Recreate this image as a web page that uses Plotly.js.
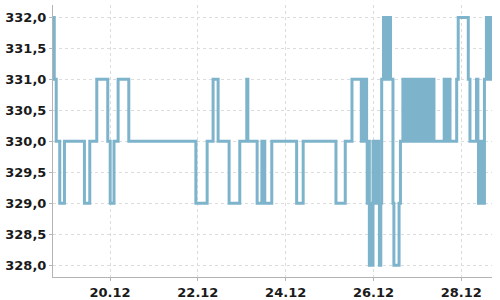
<!DOCTYPE html>
<html>
<head>
<meta charset="utf-8">
<script src="https://cdn.plot.ly/plotly-3.0.1.min.js"></script>
<style>html,body{margin:0;padding:0;background:#fff;}#chart{width:500px;height:300px;}</style>
</head>
<body>
<div id="chart"></div>
<script>
// Change points of the step series (time, new value)
const times = [
'2023-12-18 16:50','2023-12-18 17:30','2023-12-18 18:35','2023-12-18 20:30','2023-12-18 23:05',
'2023-12-19 10:00','2023-12-19 12:55','2023-12-19 16:45','2023-12-19 22:45',
'2023-12-20 00:05','2023-12-20 02:10','2023-12-20 04:25','2023-12-20 10:15',
'2023-12-21 22:55',
'2023-12-22 05:05','2023-12-22 08:20','2023-12-22 11:05','2023-12-22 17:05','2023-12-22 22:55',
'2023-12-23 02:45','2023-12-23 03:20','2023-12-23 08:25','2023-12-23 11:00','2023-12-23 12:35','2023-12-23 16:25',
'2023-12-24 06:00','2023-12-24 09:35',
'2023-12-25 03:30','2023-12-25 08:35','2023-12-25 12:15','2023-12-25 17:20','2023-12-25 18:05','2023-12-25 18:50',
'2023-12-25 19:35','2023-12-25 20:15','2023-12-25 20:35','2023-12-25 21:15','2023-12-25 21:45','2023-12-25 22:30',
'2023-12-25 23:00','2023-12-25 23:45',
'2023-12-26 00:15','2023-12-26 00:50','2023-12-26 01:30','2023-12-26 02:10','2023-12-26 02:50','2023-12-26 03:15',
'2023-12-26 04:00','2023-12-26 04:30','2023-12-26 05:30','2023-12-26 06:15','2023-12-26 07:00','2023-12-26 07:45',
'2023-12-26 08:30','2023-12-26 09:20','2023-12-26 10:40','2023-12-26 11:10','2023-12-26 14:00','2023-12-26 14:45',
'2023-12-26 16:05','2023-12-26 16:40','2023-12-26 17:25','2023-12-26 18:10','2023-12-26 18:55','2023-12-26 19:40',
'2023-12-26 20:25','2023-12-26 21:10','2023-12-26 21:55','2023-12-26 22:40','2023-12-26 23:25',
'2023-12-27 00:10','2023-12-27 00:55','2023-12-27 01:40','2023-12-27 02:25','2023-12-27 03:10','2023-12-27 03:55',
'2023-12-27 04:40','2023-12-27 05:25','2023-12-27 06:10','2023-12-27 06:55','2023-12-27 07:40','2023-12-27 08:25',
'2023-12-27 09:05','2023-12-27 14:40','2023-12-27 15:25','2023-12-27 16:10','2023-12-27 16:55','2023-12-27 17:15',
'2023-12-27 17:50','2023-12-27 21:30','2023-12-27 22:20',
'2023-12-28 03:50','2023-12-28 04:45','2023-12-28 08:20','2023-12-28 09:05','2023-12-28 09:25','2023-12-28 10:10',
'2023-12-28 10:55','2023-12-28 11:40','2023-12-28 12:10','2023-12-28 12:40','2023-12-28 13:45','2023-12-28 14:30',
'2023-12-28 15:15','2023-12-28 16:00','2023-12-28 16:20','2023-12-28 16:48'
];
const values = [
332,331,330,329,330,
329,330,331,330,
329,330,331,330,
329,
330,331,330,329,330,
331,330,329,330,329,330,
329,330,
329,330,331,330,331,330,
331,330,329,330,328,329,
328,330,
329,330,329,330,329,328,
329,331,332,331,332,331,
332,331,329,328,329,330,
331,330,331,330,331,330,
331,330,331,330,331,
330,331,330,331,330,331,
330,331,330,331,330,331,
330,331,330,331,330,331,
330,331,332,
331,330,331,330,329,330,
329,330,329,331,332,331,
332,331,332,331
];
const xRange = ['2023-12-18 16:49', '2023-12-28 16:48'];
const yRange = [327.81, 332.2];
const yTicks = [328, 328.5, 329, 329.5, 330, 330.5, 331, 331.5, 332];

const trace = {
  x: times, y: values, type: 'scatter', mode: 'lines',
  line: {shape: 'hv', color: '#7db4cc', width: 3},
  hoverinfo: 'skip'
};
const fnt = {family: 'DejaVu Sans', size: 13, color: '#1a1a1a', weight: 'bold'};
const layout = {
  width: 500, height: 300,
  margin: {l: 53, r: 8, t: 5, b: 23},
  paper_bgcolor: '#fff', plot_bgcolor: '#fff',
  separators: ', ',
  showlegend: false,
  xaxis: {
    type: 'date', range: xRange,
    tick0: '2023-12-20', dtick: 2*86400000, tickformat: '%d.%m',
    showgrid: true, gridcolor: '#dcdcdc', griddash: '3px,3px', gridwidth: 1,
    showline: true, linecolor: '#b4b4b4', linewidth: 1,
    ticks: 'outside', ticklen: 3, tickcolor: '#b4b4b4',
    tickfont: fnt, zeroline: false
  },
  yaxis: {
    range: yRange, tickvals: yTicks, tickformat: '.1f',
    showgrid: true, gridcolor: '#dcdcdc', griddash: '3px,3px', gridwidth: 1,
    showline: true, linecolor: '#b4b4b4', linewidth: 1,
    ticks: 'outside', ticklen: 3, tickcolor: '#b4b4b4',
    tickfont: fnt, zeroline: false
  }
};
Plotly.newPlot('chart', [trace], layout, {staticPlot: true, displayModeBar: false});
</script>
</body>
</html>
